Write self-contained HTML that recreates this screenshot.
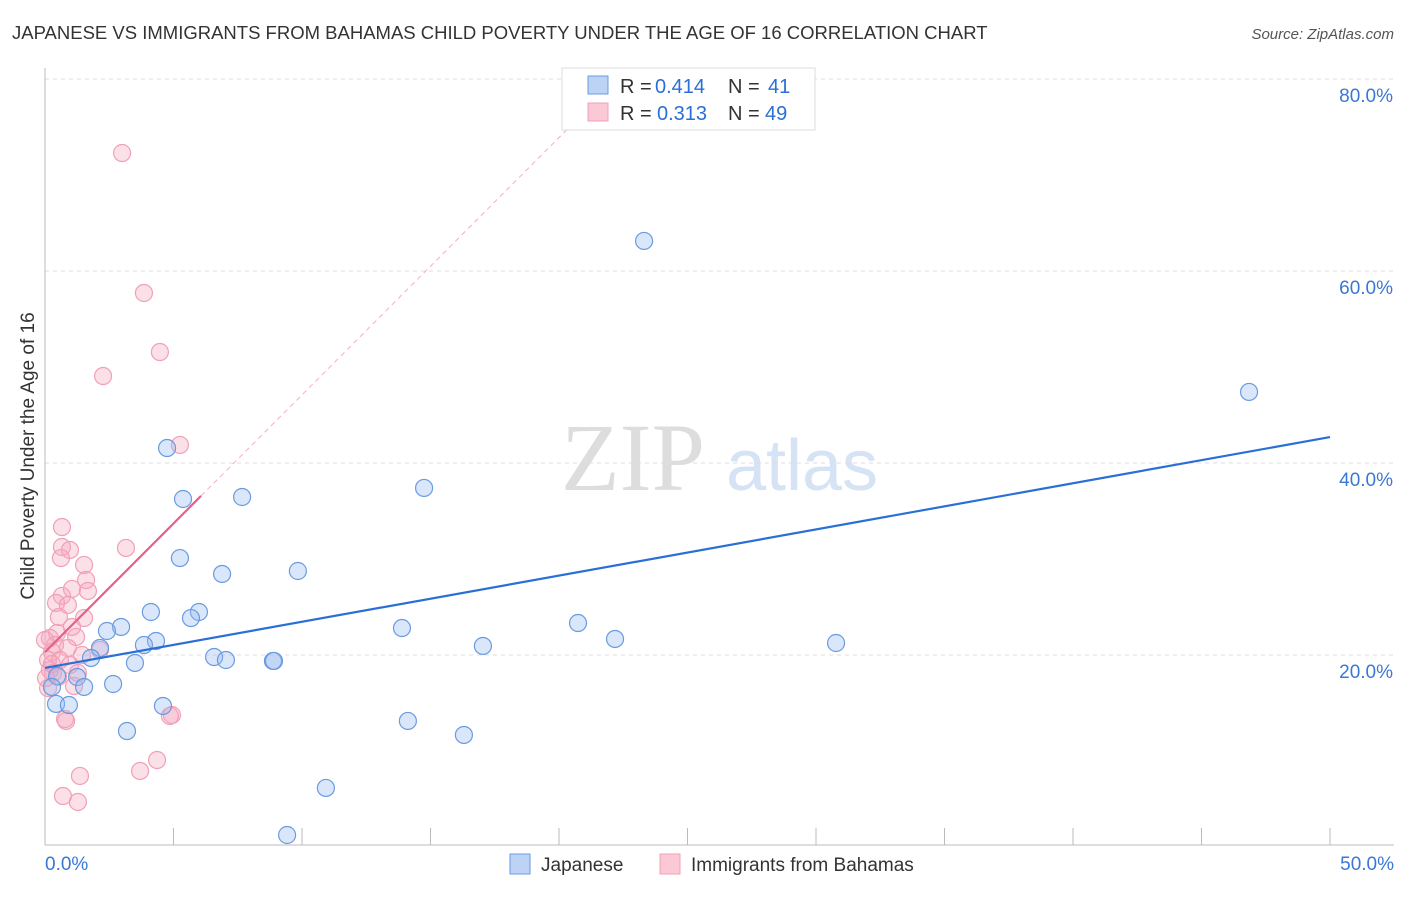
<!DOCTYPE html>
<html><head><meta charset="utf-8"><style>
body{margin:0;background:#fff;font-family:"Liberation Sans",sans-serif}
</style></head><body>
<svg id="c" width="1406" height="892" xmlns="http://www.w3.org/2000/svg" style="font-family:'Liberation Sans',sans-serif">
<text x="12" y="39" font-size="18.5" fill="#333">JAPANESE VS IMMIGRANTS FROM BAHAMAS CHILD POVERTY UNDER THE AGE OF 16 CORRELATION CHART</text>
<text x="1394" y="39" font-size="15" fill="#555" font-style="italic" text-anchor="end">Source: ZipAtlas.com</text>
<text x="34" y="456" font-size="19" fill="#333" text-anchor="middle" transform="rotate(-90 34 456)">Child Poverty Under the Age of 16</text>
<g><text x="633" y="490" font-size="96" fill="#ddd" font-family="Liberation Serif,serif" text-anchor="middle">ZIP</text><text x="802" y="490" font-size="72" fill="#d5e3f5" text-anchor="middle">atlas</text></g>
<g id="grid"></g><g id="marks"></g>
<g>
<rect x="562" y="68" width="253" height="62" fill="#fff" stroke="#ddd"/>
<rect x="588" y="76" width="20" height="18" fill="#bcd3f5" stroke="#6a9be0"/>
<rect x="588" y="103" width="20" height="18" fill="#fbc8d6" stroke="#f0a0b8"/>
<text x="620" y="93" font-size="20" fill="#333">R =</text><text x="655" y="93" font-size="20" fill="#2a6fd6">0.414</text>
<text x="728" y="93" font-size="20" fill="#333">N =</text><text x="768" y="93" font-size="20" fill="#2a6fd6">41</text>
<text x="620" y="120" font-size="20" fill="#333">R =</text><text x="657" y="120" font-size="20" fill="#2a6fd6">0.313</text>
<text x="728" y="120" font-size="20" fill="#333">N =</text><text x="765" y="120" font-size="20" fill="#2a6fd6">49</text>
</g>
<g>
<rect x="510" y="854" width="20" height="20" fill="#bcd3f5" stroke="#6a9be0"/>
<text x="541" y="871" font-size="19" fill="#333">Japanese</text>
<rect x="660" y="854" width="20" height="20" fill="#fbc8d6" stroke="#f0a0b8"/>
<text x="691" y="871" font-size="19" fill="#333">Immigrants from Bahamas</text>
</g>
</svg>
<script>
const yTicks=[20,40,60,80];
const xTickLabels=["0.0%","50.0%"];
const blueX=[23.31,46.85,4.75,5.37,7.67,14.75,5.25,6.89,9.84,4.12,5.99,5.68,2.96,2.41,13.89,20.74,22.18,30.78,4.32,3.85,2.14,17.04,1.79,6.58,7.04,8.87,8.91,3.50,0.47,1.25,2.65,1.52,0.27,0.43,0.93,4.59,14.12,3.19,16.30,10.93,9.42];
const blueY=[63.13,47.40,41.56,36.25,36.46,37.40,30.10,28.44,28.75,24.48,24.48,23.85,22.92,22.50,22.81,23.33,21.67,21.25,21.46,21.04,20.73,20.94,19.69,19.79,19.48,19.38,19.38,19.17,17.81,17.71,16.98,16.67,16.67,14.90,14.79,14.69,13.13,12.08,11.67,6.15,1.25];
const pinkX=[3.00,3.85,4.47,2.26,5.25,0.66,3.15,0.66,0.97,0.62,1.52,1.60,1.05,0.66,1.67,0.43,0.89,0.54,1.52,1.05,0.47,1.21,0.19,0.39,0.89,0.27,1.44,0.58,0.12,0.97,0.19,0.31,1.28,0.04,0.51,1.13,0.12,4.94,4.86,0.78,0.82,4.36,3.70,1.36,0.70,1.28,0.27,2.14,0.0];
const pinkY=[72.29,57.71,51.56,49.06,41.88,33.33,31.15,31.25,30.94,30.10,29.38,27.81,26.88,26.15,26.67,25.42,25.21,23.96,23.85,22.92,22.29,21.88,21.77,21.04,20.73,20.31,20.00,19.48,19.48,18.96,18.44,18.13,18.13,17.60,17.71,16.77,16.56,13.75,13.65,13.33,13.13,9.06,7.92,7.40,5.31,4.69,19.06,20.52,21.56];
const blueTrend=[18.65,42.7];
const pinkTrend=[20.3,2.68];
const pinkSolidEnd=6.07;
const X=v=>45+v/50*1285, Y=v=>847-v/20*192;
const NS="http://www.w3.org/2000/svg";
function mk(p,t,a){const e=document.createElementNS(NS,t);for(const k in a)e.setAttribute(k,a[k]);p.appendChild(e);return e;}
const g=document.getElementById('grid'), m=document.getElementById('marks');
yTicks.forEach(t=>{
 const l=mk(g,'line',{x1:45,x2:1394,y1:Y(t),y2:Y(t),stroke:'#ddd','stroke-dasharray':'4 4'});
 
 
 const tx=mk(g,'text',{x:1393,y:Y(t)+23,'font-size':19,fill:'#3a78d4','text-anchor':'end'});tx.textContent=t.toFixed(1)+'%';
 
 
});
const ax=mk(g,'line',{x1:45,x2:45,y1:68,y2:845,stroke:'#bbb'});


const bx=mk(g,'line',{x1:45,x2:1394,y1:845,y2:845,stroke:'#bbb'});


for(let i=0;i<=10;i++){const l=mk(g,'line',{x1:X(i*5),x2:X(i*5),y1:828,y2:845,stroke:'#bbb'});
 
 }
xTickLabels.forEach((s,i)=>{const t=mk(g,'text',{x:i?1394:45,y:870,'font-size':19,fill:'#3a78d4','text-anchor':i?'end':'start'});t.textContent=s;
 
 });
pinkX.forEach((x,i)=>{const c=mk(m,'circle',{cx:X(x),cy:Y(pinkY[i]),r:8.5,fill:'rgba(245,165,190,0.35)',stroke:'#f0a0b8','stroke-width':1.2});
 
 });
blueX.forEach((x,i)=>{const c=mk(m,'circle',{cx:X(x),cy:Y(blueY[i]),r:8.5,fill:'rgba(150,185,240,0.35)',stroke:'#6a9be0','stroke-width':1.2});
 
 });
const bl=mk(m,'line',{x1:X(0),y1:Y(blueTrend[0]),x2:X(50),y2:Y(blueTrend[1]),stroke:'#2a6fd6','stroke-width':2.2});


const xe=(80-pinkTrend[0])/pinkTrend[1];
const pd=mk(m,'line',{x1:X(pinkSolidEnd),y1:Y(pinkTrend[0]+pinkTrend[1]*pinkSolidEnd),x2:X(xe),y2:Y(80),stroke:'#f0b0c4','stroke-width':1,'stroke-dasharray':'5 4'});


const pl=mk(m,'line',{x1:X(0),y1:Y(pinkTrend[0]),x2:X(pinkSolidEnd),y2:Y(pinkTrend[0]+pinkTrend[1]*pinkSolidEnd),stroke:'#e8608a','stroke-width':2.2});


</script>
</body></html>
